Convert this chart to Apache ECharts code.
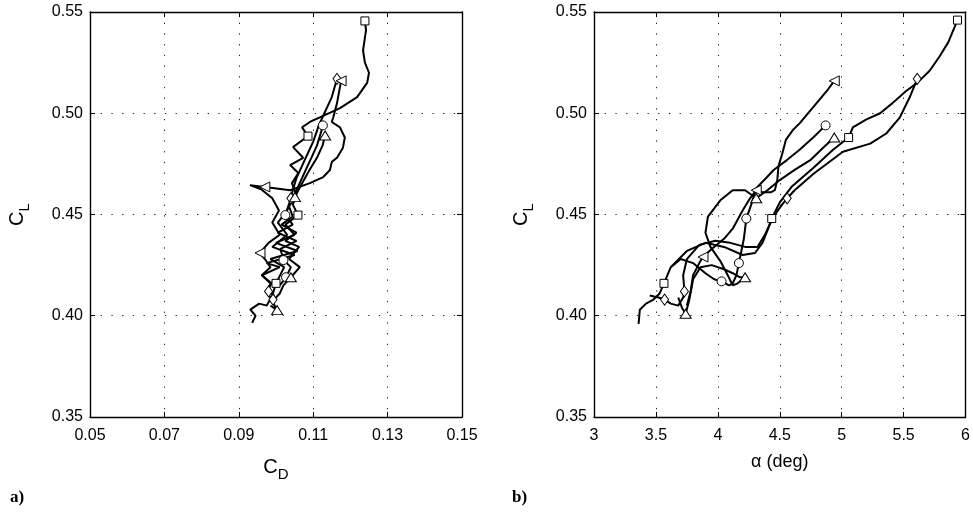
<!DOCTYPE html>
<html><head><meta charset="utf-8">
<script src="https://cdn.jsdelivr.net/npm/echarts@6/dist/echarts.min.js"></script>
<style>html,body{margin:0;padding:0;background:#fff}#c{width:973px;height:517px}</style>
</head><body><div id="c"></div>
<script>
// ---------- tick labels ----------
const yTicks = [0.35, 0.40, 0.45, 0.50, 0.55];
const cdTicks = [0.05, 0.07, 0.09, 0.11, 0.13, 0.15];
const aoaTicks = [3, 3.5, 4, 4.5, 5, 5.5, 6];

// ---------- Panel a) : C_L vs C_D ----------
const sqCD = [0.0936,0.0945,0.0931,0.0955,0.0975,0.0990,0.1000,0.1022,0.0985,0.1058,0.1000,0.1050,0.1025,0.1059,0.1045,0.1056,0.1043,0.1060,0.1038,0.1073,0.1046,0.1086,0.1070,0.1091,0.1118,0.1172,0.1218,0.1245,0.1250,0.1239,0.1234,0.1242,0.1239];
const sqCLa = [0.3965,0.4000,0.4030,0.4060,0.4050,0.4100,0.4160,0.4240,0.4280,0.4320,0.4360,0.4400,0.4450,0.4497,0.4550,0.4587,0.4655,0.4705,0.4744,0.4780,0.4833,0.4887,0.4930,0.4957,0.4980,0.5025,0.5080,0.5150,0.5200,0.5250,0.5310,0.5410,0.5456];
const sqMarkA = [6, 13, 21, 32];

const dmCD = [0.0992,0.0995,0.0980,0.0985,0.0962,0.1010,0.0975,0.1050,0.0990,0.1030,0.1005,0.1030,0.1040,0.1045,0.1055,0.1070,0.1085,0.1100,0.1115,0.1130,0.1150,0.1164];
const dmCLa = [0.4080,0.4100,0.4120,0.4160,0.4200,0.4240,0.4260,0.4300,0.4340,0.4400,0.4460,0.4520,0.4580,0.4620,0.4680,0.4740,0.4800,0.4860,0.4940,0.5000,0.5080,0.5170];
const dmMarkA = [0, 2, 12, 21];

const tlCD = [0.0990,0.0972,0.0988,0.0962,0.0985,0.0970,0.0957,0.0980,0.1010,0.0990,0.1008,0.0990,0.0960,0.0930,0.0970,0.1038,0.1091,0.1127,0.1145,0.1150,0.1164,0.1180,0.1185,0.1172,0.1150,0.1154,0.1164,0.1175];
const tlCLa = [0.4080,0.4120,0.4160,0.4200,0.4240,0.4280,0.4310,0.4360,0.4400,0.4460,0.4520,0.4580,0.4625,0.4645,0.4636,0.4620,0.4655,0.4685,0.4720,0.4760,0.4780,0.4830,0.4880,0.4930,0.4957,0.4980,0.5050,0.5160];
const tlMarkA = [6, 14, 27];

const ciCD = [0.1010,0.1027,0.1040,0.1020,0.1012,0.1055,0.1005,0.1045,0.1025,0.1035,0.1050,0.1065,0.1080,0.1095,0.1110,0.1120,0.1126];
const ciCLa = [0.4150,0.4190,0.4240,0.4275,0.4330,0.4370,0.4410,0.4450,0.4497,0.4550,0.4600,0.4660,0.4720,0.4780,0.4840,0.4900,0.4940];
const ciMarkA = [1, 3, 8, 16];

const tuCD = [0.0985,0.1003,0.0990,0.1010,0.1020,0.1040,0.1064,0.1035,0.1062,0.1025,0.1055,0.1015,0.1045,0.1035,0.1051,0.1060,0.1075,0.1090,0.1110,0.1125,0.1132];
const tuCLa = [0.4050,0.4028,0.4070,0.4110,0.4150,0.4190,0.4240,0.4280,0.4340,0.4370,0.4410,0.4450,0.4490,0.4540,0.4586,0.4620,0.4670,0.4720,0.4780,0.4840,0.4890];
const tuMarkA = [1, 5, 14, 20];

// ---------- Panel b) : C_L vs alpha ----------
const sqAoA = [3.36,3.37,3.42,3.48,3.53,3.565,3.62,3.75,3.90,4.05,4.20,4.30,4.36,4.40,4.435,4.50,4.60,4.77,4.93,5.056,5.09,5.20,5.31,5.41,5.52,5.61,5.71,5.79,5.86,5.935];
const sqCLb = [0.396,0.403,0.406,0.408,0.411,0.416,0.424,0.432,0.436,0.434,0.430,0.431,0.436,0.442,0.448,0.456,0.464,0.473,0.482,0.488,0.493,0.497,0.500,0.505,0.511,0.515,0.521,0.528,0.535,0.546];
const sqMarkB = [5, 14, 19, 29];

const dmAoA = [3.45,3.52,3.57,3.62,3.68,3.72,3.73,3.72,3.75,3.85,3.98,4.10,4.22,4.32,4.38,4.45,4.52,4.56,4.62,4.77,5.01,5.23,5.36,5.47,5.55,5.61];
const dmCLb = [0.410,0.409,0.408,0.406,0.405,0.409,0.412,0.420,0.428,0.435,0.437,0.436,0.434,0.434,0.440,0.449,0.455,0.458,0.462,0.470,0.481,0.485,0.490,0.498,0.508,0.517];
const dmMarkB = [2, 6, 17, 25];

const tlAoA = [3.75,3.78,3.80,3.85,3.88,3.95,4.05,4.12,4.20,4.26,4.31,4.36,4.43,4.46,4.48,4.49,4.52,4.55,4.61,4.66,4.77,4.88,4.94];
const tlCLb = [0.405,0.412,0.420,0.426,0.429,0.433,0.438,0.443,0.452,0.458,0.462,0.461,0.461,0.462,0.467,0.474,0.480,0.487,0.492,0.495,0.503,0.511,0.516];
const tlMarkB = [4, 10, 22];

const ciAoA = [3.62,3.70,3.80,3.90,3.97,4.03,4.09,4.12,4.15,4.17,4.19,4.21,4.22,4.23,4.27,4.31,4.39,4.45,4.56,4.66,4.77,4.87];
const ciCLb = [0.424,0.428,0.426,0.421,0.418,0.417,0.415,0.416,0.420,0.426,0.432,0.438,0.443,0.448,0.455,0.463,0.468,0.472,0.477,0.482,0.488,0.494];
const ciMarkB = [5, 9, 13, 21];

const tuAoA = [3.68,3.71,3.74,3.77,3.80,3.86,3.95,4.05,4.12,4.18,4.22,4.16,4.12,4.08,4.02,3.94,3.90,3.92,4.02,4.12,4.22,4.31,4.40,4.50,4.62,4.75,4.85,4.94];
const tuCLb = [0.409,0.404,0.401,0.408,0.418,0.424,0.425,0.423,0.421,0.419,0.419,0.416,0.415,0.420,0.427,0.434,0.441,0.449,0.457,0.462,0.462,0.458,0.462,0.467,0.472,0.477,0.483,0.488];
const tuMarkB = [2, 10, 21, 27];

// ---------- build ----------
const FONT = 'Liberation Sans';
const LEFT_TRI = 'path://M0,5L10,0L10,10Z';
const curves = [
  {a:[sqCD,sqCLa,sqMarkA], b:[sqAoA,sqCLb,sqMarkB], sym:'rect', size:8},
  {a:[dmCD,dmCLa,dmMarkA], b:[dmAoA,dmCLb,dmMarkB], sym:'diamond', size:[8,11]},
  {a:[tlCD,tlCLa,tlMarkA], b:[tlAoA,tlCLb,tlMarkB], sym:LEFT_TRI, size:[10,10]},
  {a:[ciCD,ciCLa,ciMarkA], b:[ciAoA,ciCLb,ciMarkB], sym:'circle', size:9},
  {a:[tuCD,tuCLa,tuMarkA], b:[tuAoA,tuCLb,tuMarkB], sym:'triangle', size:[11,9]}
];

const gridDot = {color:'#222', width:1, type:[1.3, 9.4]};
const frame = {color:'#000', width:1.4};
const subRich = {c:{fontSize:20, fontFamily:FONT, color:'#000'}, s:{fontSize:15, fontFamily:FONT, color:'#000', padding:[14,0,0,0]}};
function xAxes(gi, ticks, fmt, name, rich){
  const min = ticks[0], max = ticks[ticks.length-1], interval = ticks[1]-ticks[0];
  return [
    {gridIndex:gi, type:'value', min, max, interval, position:'bottom',
     axisLine:{show:true, onZero:false, lineStyle:frame},
     axisTick:{show:true, inside:true, length:5, lineStyle:{color:'#000'}},
     axisLabel:{color:'#000', fontSize:16, fontFamily:FONT, margin:11, formatter:fmt},
     splitLine:{show:true, lineStyle:gridDot},
     name, nameLocation:'middle', nameGap:36,
     nameTextStyle:{color:'#000', fontFamily:FONT, fontSize:18, rich}},
    {gridIndex:gi, type:'value', min, max, interval, position:'top',
     axisLine:{show:true, onZero:false, lineStyle:frame},
     axisTick:{show:true, inside:true, length:5, lineStyle:{color:'#000'}},
     axisLabel:{show:false}, splitLine:{show:false}}
  ];
}
function yAxes(gi){
  const min = yTicks[0], max = yTicks[yTicks.length-1], interval = yTicks[1]-yTicks[0];
  return [
    {gridIndex:gi, type:'value', min, max, interval, position:'left',
     axisLine:{show:true, onZero:false, lineStyle:frame},
     axisTick:{show:true, inside:true, length:5, lineStyle:{color:'#000'}},
     axisLabel:{color:'#000', fontSize:16, fontFamily:FONT, margin:7, formatter:v=>v.toFixed(2)},
     splitLine:{show:true, lineStyle:gridDot},
     name:'{c|C}{s|L}', nameLocation:'middle', nameGap:58, nameRotate:90,
     nameTextStyle:{rich:subRich}},
    {gridIndex:gi, type:'value', min, max, interval, position:'right',
     axisLine:{show:true, onZero:false, lineStyle:frame},
     axisTick:{show:true, inside:true, length:5, lineStyle:{color:'#000'}},
     axisLabel:{show:false}, splitLine:{show:false}}
  ];
}

const series = [];
curves.forEach(cv => {
  [['a',0],['b',1]].forEach(([k,gi]) => {
    const [xs, ys, mk] = cv[k];
    series.push({type:'line', xAxisIndex:gi*2, yAxisIndex:gi*2, data:xs.map((x,i)=>[x,ys[i]]),
      showSymbol:false, symbol:'none', lineStyle:{color:'#000', width:2}, z:2, animation:false});
    series.push({type:'scatter', xAxisIndex:gi*2, yAxisIndex:gi*2, data:mk.map(i=>[xs[i],ys[i]]),
      symbol:cv.sym, symbolSize:cv.size, itemStyle:{color:'#fff', borderColor:'#000', borderWidth:1, opacity:1}, z:5, animation:false});
  });
});

const chart = echarts.init(document.getElementById('c'), null, {renderer:'canvas'});
chart.setOption({
  animation:false,
  backgroundColor:'#fff',
  grid:[{left:90, top:12, width:372, height:405}, {left:594, top:12, width:372, height:405}],
  xAxis:[...xAxes(0, cdTicks, v=>v.toFixed(2), '{c|C}{s|D}', subRich),
         ...xAxes(1, aoaTicks, v=>String(v), 'α (deg)', undefined)],
  yAxis:[...yAxes(0), ...yAxes(1)],
  series,
  graphic:[
    {type:'text', left:10, top:489, style:{text:'a)', font:'bold 17px "Liberation Serif"', fill:'#000'}},
    {type:'text', left:512, top:489, style:{text:'b)', font:'bold 17px "Liberation Serif"', fill:'#000'}}
  ]
});
</script></body></html>
